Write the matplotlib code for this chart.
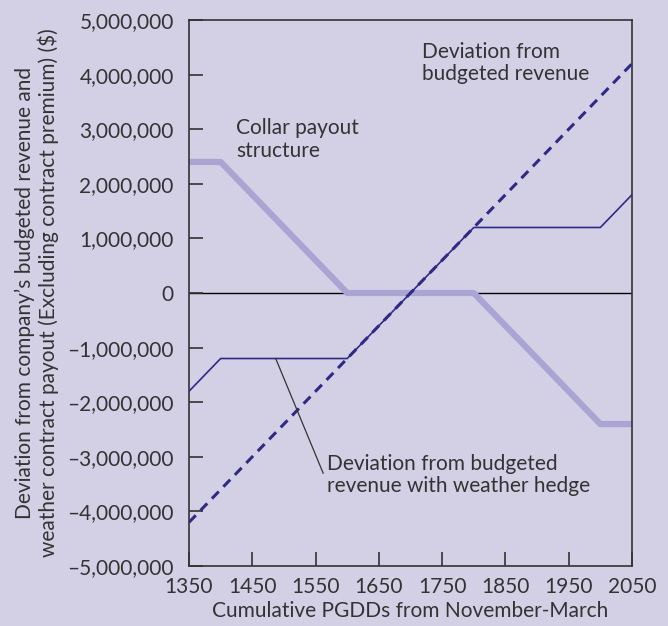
import matplotlib
matplotlib.use('Agg')
import matplotlib.pyplot as plt
from matplotlib.ticker import FuncFormatter

matplotlib.rcParams.update({'font.family': 'Lato', 'font.size': 15})

bg = '#d3d0e6'
navy = '#2e2a85'
lilac = '#a9a4d2'
txt = '#333333'

# PGDDs and dollar deviations
pgdd = [1350, 1400, 1600, 1800, 2000, 2050]
unhedged = [-4200000, -3600000, -1200000, 1200000, 3600000, 4200000]
collar = [2400000, 2400000, 0, 0, -2400000, -2400000]
hedged = [-1800000, -1200000, -1200000, 1200000, 1200000, 1800000]

xticks = [1350, 1450, 1550, 1650, 1750, 1850, 1950, 2050]
yticks = [-5000000, -4000000, -3000000, -2000000, -1000000, 0,
          1000000, 2000000, 3000000, 4000000, 5000000]

fig = plt.figure(figsize=(6.68, 6.26), dpi=100, facecolor=bg)
ax = fig.add_axes([189/668, 1-566/626, 443/668, 546/626])
ax.set_facecolor(bg)

ax.axhline(0, color='black', linewidth=1.0, zorder=1)
ax.plot(pgdd, collar, color=lilac, linewidth=4.5, solid_capstyle='butt', zorder=2)
ax.plot(pgdd, unhedged, color=navy, linewidth=2.2, linestyle=(0, (3.2, 2.2)), zorder=3)
ax.plot(pgdd, hedged, color=navy, linewidth=1.2, zorder=4)

ax.set_xlim(1350, 2050)
ax.set_ylim(-5000000, 5000000)
ax.set_xticks(xticks)
ax.set_yticks(yticks)

def money(v, pos):
    s = '{:,.0f}'.format(abs(v))
    return ('\u2013' + s) if v < 0 else s

ax.yaxis.set_major_formatter(FuncFormatter(money))
ax.tick_params(direction='in', length=10, width=1.2, colors='#333333',
               labelcolor=txt, labelsize=15, pad=11)
ax.tick_params(axis='x', pad=8)
for sp in ax.spines.values():
    sp.set_color('#333333')
    sp.set_linewidth(1.2)

ax.set_xlabel('Cumulative PGDDs from November-March', color=txt, fontsize=15, labelpad=3)
ax.set_ylabel('Deviation from company\u2019s budgeted revenue and\n'
              'weather contract payout (Excluding contract premium) ($)',
              color=txt, fontsize=15, labelpad=6, linespacing=1.15)

ax.text(1424, 3.2e6, 'Collar payout\nstructure', color=txt, fontsize=15,
        va='top', ha='left', linespacing=1.15)
ax.text(1718, 4.6e6, 'Deviation from\nbudgeted revenue', color=txt, fontsize=15,
        va='top', ha='left', linespacing=1.15)
ax.text(1568, -2.95e6, 'Deviation from budgeted\nrevenue with weather hedge',
        color=txt, fontsize=15, va='top', ha='left', linespacing=1.15)
ax.plot([1487, 1562], [-1.2e6, -3.3e6], color='#333333', linewidth=0.9, zorder=5)

fig.savefig('out.png', dpi=100, facecolor=bg)
